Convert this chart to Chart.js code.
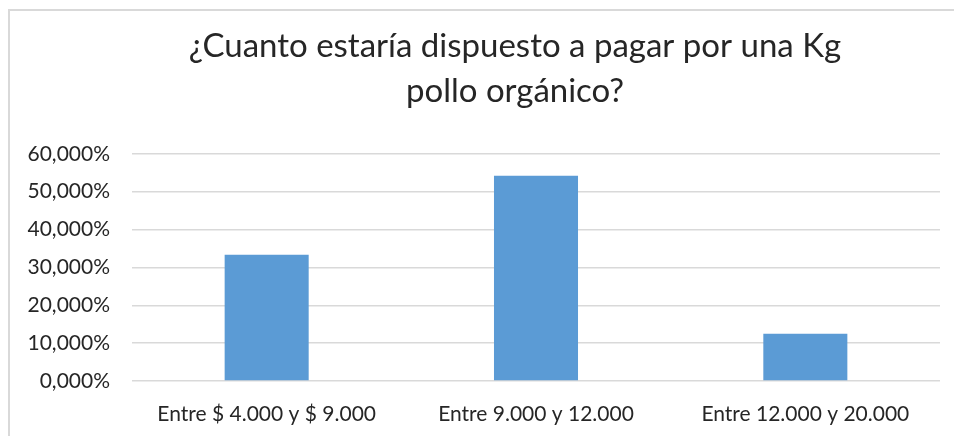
<!DOCTYPE html>
<html>
<head>
<meta charset="utf-8">
<script src="https://cdn.jsdelivr.net/npm/chart.js@4"></script>
<style>
  html, body { margin: 0; padding: 0; background: #fff; overflow: hidden; }
  #frame { position: absolute; left: 8px; top: 9px; width: 1000px; height: 500px; border: 2px solid #d9d9d9; }
  #wrap { position: absolute; left: 0; top: 0; width: 954px; height: 436px; }
</style>
</head>
<body>
<div id="frame"></div>
<div id="wrap"><canvas id="grafico"></canvas></div>
<script>
// datos del grafico
const rangos = ["Entre $ 4.000 y $ 9.000", "Entre 9.000 y 12.000", "Entre 12.000 y 20.000"];
const porcentajes = [0.3333, 0.5417, 0.125];
const titulo = ["¿Cuanto estaría dispuesto a pagar por una Kg", "pollo orgánico?"];

// formato con coma decimal como en el original
function formatoPct(v) {
    return (v * 100).toFixed(3).replace(".", ",") + "%";
}

// el titulo en el original esta un poco corrido a la derecha
const moverTitulo = {
    id: "moverTitulo",
    afterLayout: function (chart) {
        if (chart.titleBlock) {
            chart.titleBlock.left = 90;
            chart.titleBlock.right = 940;
        }
    }
};

var ctx = document.getElementById("grafico").getContext("2d");
var grafico = new Chart(ctx, {
    type: "bar",
    data: {
        labels: rangos,
        datasets: [{
            data: porcentajes,
            backgroundColor: "#5b9bd5",
            borderWidth: 0,
            categoryPercentage: 1,
            barPercentage: 0.312
        }]
    },
    plugins: [moverTitulo],
    options: {
        responsive: true,
        maintainAspectRatio: false,
        animation: false,
        layout: { padding: { left: 0, right: 14, top: 24, bottom: 0 } },
        plugins: {
            legend: { display: false },
            tooltip: { enabled: false },
            title: {
                display: true,
                text: titulo,
                color: "#262626",
                font: { family: "Lato", size: 33, weight: "normal", lineHeight: 1.36 },
                padding: { top: 0, bottom: 40 }
            }
        },
        scales: {
            x: {
                afterFit: function (s) { s.height = 55; },
                grid: { display: false },
                border: { display: false },
                ticks: {
                    color: "#262626",
                    font: { family: "Lato", size: 21 },
                    padding: 13,
                    maxRotation: 0
                }
            },
            y: {
                min: 0,
                max: 0.6,
                afterFit: function (s) { s.width = 132; },
                grid: { color: "#d9d9d9", lineWidth: 1.5, drawTicks: false },
                border: { display: false },
                ticks: {
                    stepSize: 0.1,
                    color: "#262626",
                    font: { family: "Lato", size: 21 },
                    padding: 22,
                    callback: function (v) { return formatoPct(v); }
                }
            }
        }
    }
});
</script>
</body>
</html>
